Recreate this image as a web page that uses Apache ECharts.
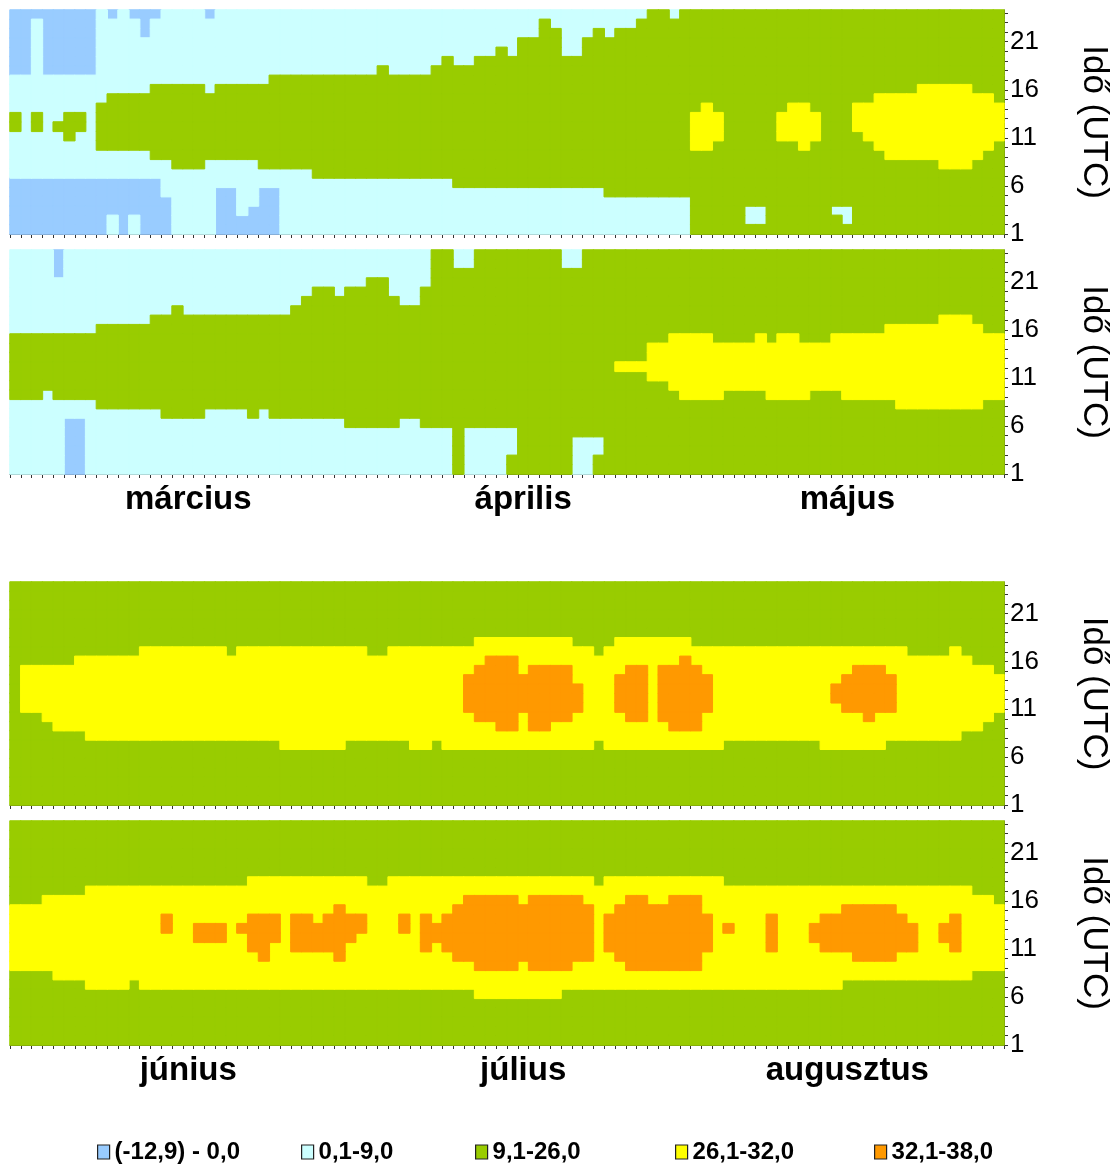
<!DOCTYPE html>
<html><head><meta charset="utf-8">
<script src="https://cdn.jsdelivr.net/npm/echarts@6/dist/echarts.min.js"></script>
<style>html,body{margin:0;padding:0;background:#fff}#c{width:1119px;height:1165px}</style>
</head><body><div id="c"></div>
<script>
// ---- classes (legend) ----
const classNames = ['(-12,9) - 0,0', '0,1-9,0', '9,1-26,0', '26,1-32,0', '32,1-38,0'];
const classColors = ['#99ccff', '#ccffff', '#99cc00', '#ffff00', '#ff9900'];

// ---- axes ----
const hourCategories = ['1','2','3','4','5','6','7','8','9','10','11','12','13','14','15','16','17','18','19','20','21','22','23','24'];
const hourTickLabels = [1, 6, 11, 16, 21];
const springMonthNames = ['március', 'április', 'május'];
const springMonthLengths = [31, 30, 31];
const summerMonthNames = ['június', 'július', 'augusztus'];
const summerMonthLengths = [30, 31, 31];
const monthLabelDayIndex = [16, 47, 77];
const axisName = 'Idő (UTC)';

// ---- cell classes: one string per day, characters = hours 24 (first) .. 1 (last) ----
const springTop = [
"000000011112211111000000","000000011111111111000000","011111111112211111000000","000000011111111111000000",
"000000011111211111000000","000000011112221111000000","000000011112211111000000","000000011111111111000000",
"111111111122222111000000","011111111222222111000011","111111111222222111000000","011111111222222111000011",
"000111111222222111000000","011111112222222211000000","111111112222222211110000","111111112222222221111111",
"111111112222222221111111","111111112222222221111111","011111111222222211111111","111111112222222211100000",
"111111112222222211100000","111111112222222211111100","111111112222222211111000","111111112222222221100000",
"111111122222222221100000","111111122222222221111111","111111122222222221111111","111111122222222221111111",
"111111122222222222111111","111111122222222222111111","111111122222222222111111","111111122222222222111111",
"111111122222222222111111","111111122222222222111111","111111222222222222111111","111111122222222222111111",
"111111122222222222111111","111111122222222222111111","111111122222222222111111","111111222222222222111111",
"111112222222222222111111","111111222222222222211111","111111222222222222211111","111112222222222222211111",
"111112222222222222211111","111122222222222222211111","111112222222222222211111","111222222222222222211111",
"111222222222222222211111","122222222222222222211111","112222222222222222211111","111112222222222222211111",
"111112222222222222211111","111222222222222222211111","112222222222222222211111","111222222222222222221111",
"112222222222222222221111","112222222222222222221111","122222222222222222221111","222222222222222222221111",
"222222222222222222221111","122222222222222222221111","222222222222222222221111","222222222223333222222222",
"222222222233333222222222","222222222223332222222222","222222222222222222222222","222222222222222222222222",
"222222222222222222222112","222222222222222222222112","222222222222222222222222","222222222223332222222222",
"222222222233332222222222","222222222233333222222222","222222222223332222222222","222222222222222222222222",
"222222222222222222222122","222222222222222222222112","222222222233322222222222","222222222233332222222222",
"222222222333333222222222","222222222333333322222222","222222222333333322222222","222222222333333322222222",
"222222223333333322222222","222222223333333322222222","222222223333333332222222","222222223333333332222222",
"222222223333333332222222","222222222333333322222222","222222222333333222222222","222222222233332222222222"
];
const springBottom = [
"111111111222222211111111","111111111222222211111111","111111111222222211111111","111111111222222111111111",
"000111111222222211111111","111111111222222211000000","111111111222222211000000","111111111222222211111111",
"111111112222222221111111","111111112222222221111111","111111112222222221111111","111111112222222221111111",
"111111112222222221111111","111111122222222221111111","111111122222222222111111","111111222222222222111111",
"111111122222222222111111","111111122222222222111111","111111122222222221111111","111111122222222221111111",
"111111122222222221111111","111111122222222221111111","111111122222222222111111","111111122222222221111111",
"111111122222222222111111","111111122222222222111111","111111222222222222111111","111112222222222222111111",
"111122222222222222111111","111122222222222222111111","111112222222222222111111","111122222222222222211111",
"111122222222222222211111","111222222222222222211111","111222222222222222211111","111112222222222222211111",
"111111222222222222111111","111111222222222222111111","111122222222222222211111","222222222222222222211111",
"222222222222222222211111","112222222222222222222222","112222222222222222211111","222222222222222222211111",
"222222222222222222211111","222222222222222222211111","222222222222222222211122","222222222222222222222222",
"222222222222222222222222","222222222222222222222222","222222222222222222222222","112222222222222222222222",
"112222222222222222221111","222222222222222222221111","222222222222222222221122","222222222222222222222222",
"222222222222322222222222","222222222222322222222222","222222222222322222222222","222222222233332222222222",
"222222222233332222222222","222222222333333222222222","222222222333333322222222","222222222333333322222222",
"222222222333333322222222","222222222233333322222222","222222222233333222222222","222222222233333222222222",
"222222222233333222222222","222222222333333222222222","222222222233333322222222","222222222333333322222222",
"222222222333333322222222","222222222233333322222222","222222222233333222222222","222222222233333222222222",
"222222222333333222222222","222222222333333322222222","222222222333333322222222","222222222333333322222222",
"222222222333333322222222","222222223333333322222222","222222223333333332222222","222222223333333332222222",
"222222223333333332222222","222222223333333332222222","222222233333333332222222","222222233333333332222222",
"222222233333333332222222","222222223333333332222222","222222222333333322222222","222222222333333322222222"
];
const summerTop = [
"222222222222222222222222","222222222333332222222222","222222222333332222222222","222222222333333222222222",
"222222222333333322222222","222222222333333322222222","222222223333333322222222","222222223333333332222222",
"222222223333333332222222","222222223333333332222222","222222223333333332222222","222222223333333332222222",
"222222233333333332222222","222222233333333332222222","222222233333333332222222","222222233333333332222222",
"222222233333333332222222","222222233333333332222222","222222233333333332222222","222222233333333332222222",
"222222223333333332222222","222222233333333332222222","222222233333333332222222","222222233333333332222222",
"222222233333333332222222","222222233333333333222222","222222233333333333222222","222222233333333333222222",
"222222233333333333222222","222222233333333333222222","222222233333333333222222","222222233333333332222222",
"222222233333333332222222","222222223333333332222222","222222223333333332222222","222222233333333332222222",
"222222233333333332222222","222222233333333333222222","222222233333333333222222","222222233333333332222222",
"222222233333333333222222","222222233333333333222222","222222233344443333222222","222222333444444333222222",
"222222334444444333222222","222222334444444433222222","222222334444444433222222","222222333344443333222222",
"222222333444444433222222","222222333444444433222222","222222333444444333222222","222222333444444333222222",
"222222233334443333222222","222222233333333333222222","222222223333333332222222","222222233333333333222222",
"222222333344443333222222","222222333444444333222222","222222333444444333222222","222222333333333333222222",
"222222333444444333222222","222222333444444433222222","222222334444444433222222","222222233444444433222222",
"222222233344443333222222","222222233333333333222222","222222233333333332222222","222222233333333332222222",
"222222233333333332222222","222222233333333332222222","222222233333333332222222","222222233333333332222222",
"222222233333333332222222","222222233333333332222222","222222233333333332222222","222222233333333333222222",
"222222233334433333222222","222222233344443333222222","222222233444443333222222","222222233444444333222222",
"222222233444443333222222","222222233344443332222222","222222233333333332222222","222222223333333332222222",
"222222223333333332222222","222222223333333332222222","222222223333333332222222","222222233333333332222222",
"222222223333333322222222","222222222333333322222222","222222222333333222222222","222222222233332222222222"
];
const summerBottom = [
"222222222333333322222222","222222222333333322222222","222222222333333322222222","222222223333333322222222",
"222222223333333332222222","222222223333333332222222","222222223333333332222222","222222233333333333222222",
"222222233333333333222222","222222233333333333222222","222222233333333333222222","222222233333333332222222",
"222222233333333333222222","222222233333333333222222","222222233344333333222222","222222233333333333222222",
"222222233333333333222222","222222233334433333222222","222222233334433333222222","222222233334433333222222",
"222222233333333333222222","222222233334333333222222","222222333344443333222222","222222333344444333222222",
"222222333344433333222222","222222333333333333222222","222222333344443333222222","222222333344443333222222",
"222222333334443333222222","222222333344443333222222","222222333444444333222222","222222333344433333222222",
"222222333344333333222222","222222233333333333222222","222222233333333333222222","222222333333333333222222",
"222222333344333333222222","222222333333333333222222","222222333344443333222222","222222333334433333222222",
"222222333344443333222222","222222333444444333222222","222222334444444333222222","222222334444444433322222",
"222222334444444433322222","222222334444444433322222","222222334444444433322222","222222333444444333322222",
"222222334444444433322222","222222334444444433322222","222222334444444433322222","222222334444444433222222",
"222222334444444333222222","222222333444444333222222","222222233333333333222222","222222333344443333222222",
"222222333444444333222222","222222334444444433222222","222222334444444433222222","222222333444444433222222",
"222222333444444433222222","222222334444444433222222","222222334444444433222222","222222334444444433222222",
"222222333344443333222222","222222333333333333222222","222222233334333333222222","222222233333333333222222",
"222222233333333333222222","222222233333333333222222","222222233344443333222222","222222233333333333222222",
"222222233333333333222222","222222233333333333222222","222222233334433333222222","222222233344443333222222",
"222222233344443333222222","222222233444443332222222","222222233444444332222222","222222233444444332222222",
"222222233444444332222222","222222233444444332222222","222222233344443332222222","222222233334443332222222",
"222222233333333332222222","222222233333333332222222","222222233334433332222222","222222233344443332222222",
"222222233333333332222222","222222223333333322222222","222222223333333322222222","222222222333333322222222"
];

// ---- build ----
function dayCategories(monthLengths, firstMonth) {
  const out = [];
  monthLengths.forEach((len, m) => { for (let d = 1; d <= len; d++) out.push((firstMonth + m) + '.' + d); });
  return out;
}
const springDays = dayCategories(springMonthLengths, 3);
const summerDays = dayCategories(summerMonthLengths, 6);

const panels = [
  { cols: springTop, days: springDays, months: null },
  { cols: springBottom, days: springDays, months: springMonthNames },
  { cols: summerTop, days: summerDays, months: null },
  { cols: summerBottom, days: summerDays, months: summerMonthNames }
];
const gridBoxes = [
  { left: 10, top: 10, width: 999, height: 224 },
  { left: 10, top: 250, width: 999, height: 224 },
  { left: 10, top: 582, width: 999, height: 223 },
  { left: 10, top: 821, width: 999, height: 224 }
];
const FONT = 'Liberation Sans, Arial, Helvetica, sans-serif';

const xAxes = [], yAxes = [], series = [];
panels.forEach((p, i) => {
  xAxes.push({
    type: 'category', gridIndex: i, data: p.days, boundaryGap: true,
    axisLine: { show: true, lineStyle: { color: '#333', width: 1 } },
    axisTick: { show: true, interval: 0, length: 4, lineStyle: { color: '#333', width: 1 } },
    axisLabel: p.months ? {
      show: true,
      interval: (idx) => monthLabelDayIndex.indexOf(idx) >= 0,
      formatter: (v, idx) => { const k = monthLabelDayIndex.indexOf(idx); return k >= 0 ? p.months[k] : ''; },
      fontSize: 33, fontWeight: 'bold', color: '#000', fontFamily: FONT, margin: 9
    } : { show: false },
    splitLine: { show: false }
  });
  yAxes.push({
    type: 'category', gridIndex: i, data: hourCategories, position: 'left', show: false, boundaryGap: true
  });
  yAxes.push({
    type: 'value', gridIndex: i, position: 'right', min: 1, max: 24.3,
    axisLine: { show: true, lineStyle: { color: '#333', width: 1 } },
    axisTick: { show: true, customValues: hourCategories.map(Number), length: 4, lineStyle: { color: '#333' } },
    axisLabel: { customValues: hourTickLabels, fontSize: 26, color: '#000', fontFamily: FONT, margin: 6 },
    splitLine: { show: false },
    name: axisName, nameLocation: 'middle', nameRotate: -90, nameGap: 72,
    nameTextStyle: { fontSize: 35, color: '#000', fontFamily: FONT }
  });
  for (let k = 0; k < classNames.length; k++) {
    const data = [];
    p.cols.forEach((col, d) => {
      for (let r = 0; r < col.length; r++) {
        if (col.charCodeAt(r) - 48 === k) data.push([d, hourCategories.length - 1 - r, k]);
      }
    });
    series.push({
      type: 'heatmap', name: classNames[k], xAxisIndex: i, yAxisIndex: 2 * i, data: data,
      itemStyle: { color: classColors[k], borderColor: classColors[k], borderWidth: 1 },
      emphasis: { disabled: true }, progressive: 0, silent: true
    });
  }
});

const legendLefts = [92, 296, 470, 670, 869];
const legends = classNames.map((n, k) => ({
  data: [n], left: legendLefts[k], top: 1135, orient: 'horizontal',
  icon: 'rect', itemWidth: 12, itemHeight: 14, selectedMode: false,
  itemStyle: { borderColor: '#222', borderWidth: 1.2 },
  textStyle: { fontSize: 24, fontWeight: 'bold', color: '#000', fontFamily: FONT }
}));

const chart = echarts.init(document.getElementById('c'), null, { renderer: 'canvas' });
chart.setOption({
  backgroundColor: '#fff',
  animation: false,
  grid: gridBoxes,
  xAxis: xAxes,
  yAxis: yAxes,
  legend: legends,
  series: series
});
</script>
</body></html>
